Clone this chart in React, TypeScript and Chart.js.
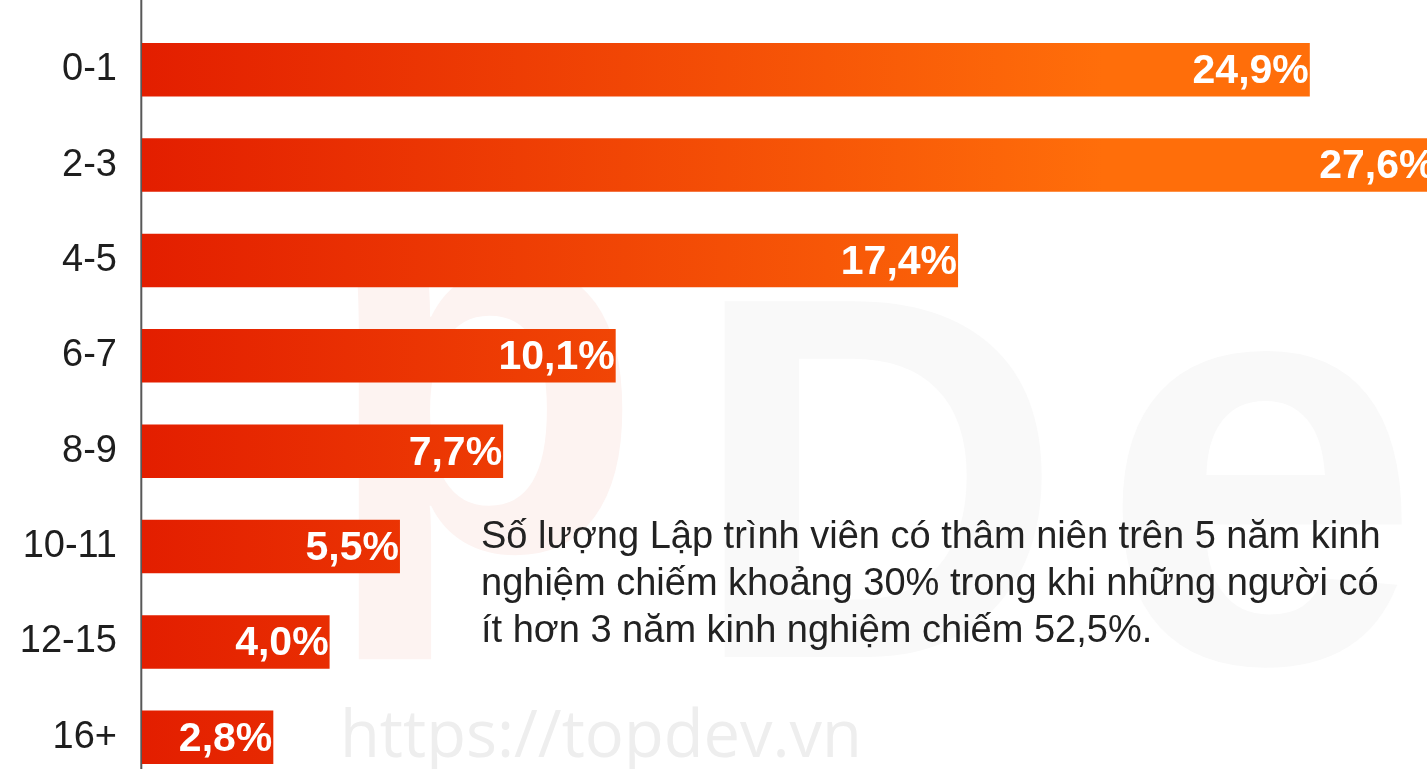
import React, { useEffect, useRef } from "react";
import { Chart, registerables } from "chart.js";

Chart.register(...registerables);

const categories: string[] = ["0-1", "2-3", "4-5", "6-7", "8-9", "10-11", "12-15", "16+"];
const shares: number[] = [24.9, 27.6, 17.4, 10.1, 7.7, 5.5, 4.0, 2.8];
const noteLines: string[] = [
  "Số lượng Lập trình viên có thâm niên trên 5 năm kinh",
  "nghiệm chiếm khoảng 30% trong khi những người có",
  "ít hơn 3 năm kinh nghiệm chiếm 52,5%.",
];
const watermarkText = "https://topdev.vn";

const fmt = (v: number) => v.toFixed(1).replace(".", ",") + "%";

const CANVAS_W = 1560;
const CANVAS_H = 800;

const backgroundPlugin = {
  id: "bgDecor",
  beforeDraw(chart: any) {
    const { ctx } = chart;
    ctx.save();
    ctx.fillStyle = "#ffffff";
    ctx.fillRect(0, 0, chart.width, chart.height);
    // faint logo letters
    ctx.textBaseline = "alphabetic";
    ctx.textAlign = "left";
    ctx.fillStyle = "#fdf3f1";
    ctx.font = 'bold 527px "Liberation Sans"';
    ctx.fillText("p", 322, 550);
    ctx.fillStyle = "#f9f9f9";
    ctx.font = 'bold 517px "Liberation Sans"';
    ctx.fillText("D", 690, 657);
    ctx.font = 'bold 578px "Liberation Sans"';
    ctx.fillText("e", 1100, 662);
    // watermark url
    ctx.fillStyle = "#eeeeee";
    ctx.font = '65px "Open Sans"';
    ctx.fillText(watermarkText, 340, 757);
    ctx.restore();
  },
  beforeDatasetsDraw(chart: any) {
    const { ctx, chartArea } = chart;
    ctx.save();
    ctx.strokeStyle = "#585858";
    ctx.lineWidth = 2;
    ctx.beginPath();
    ctx.moveTo(chartArea.left - 0.7, 0);
    ctx.lineTo(chartArea.left - 0.7, chart.height);
    ctx.stroke();
    ctx.restore();
  },
  afterDatasetsDraw(chart: any) {
    const { ctx } = chart;
    const meta = chart.getDatasetMeta(0);
    ctx.save();
    ctx.fillStyle = "#ffffff";
    ctx.font = 'bold 41px "Liberation Sans"';
    ctx.textAlign = "right";
    ctx.textBaseline = "middle";
    meta.data.forEach((bar: any, i: number) => {
      ctx.fillText(fmt(shares[i]), bar.x - 1, bar.y + 2);
    });
    // annotation
    ctx.fillStyle = "#222222";
    ctx.font = '38px "Liberation Sans"';
    ctx.textAlign = "left";
    ctx.textBaseline = "alphabetic";
    noteLines.forEach((line, i) => {
      ctx.fillText(line, 481, 548 + i * 47);
    });
    ctx.restore();
  },
};

export default function App() {
  const ref = useRef<HTMLCanvasElement | null>(null);

  useEffect(() => {
    if (!ref.current) return;
    const chart = new Chart(ref.current, {
      type: "bar",
      data: {
        labels: categories,
        datasets: [
          {
            data: shares,
            backgroundColor: (c: any) => {
              const ch = c.chart;
              const xs = ch.scales?.x;
              if (!xs || !ch.chartArea) return "#f04a08";
              const x0 = xs.getPixelForValue(0);
              const x1 = xs.getPixelForValue(20.5);
              if (!isFinite(x0) || !isFinite(x1) || x1 <= x0) return "#f04a08";
              const g = ch.ctx.createLinearGradient(x0, 0, x1, 0);
              g.addColorStop(0, "#e31e00");
              g.addColorStop(1, "#ff6e0a");
              return g;
            },
            borderWidth: 0,
            barPercentage: 0.56,
            categoryPercentage: 1,
          },
        ],
      },
      options: {
        indexAxis: "y",
        responsive: false,
        devicePixelRatio: 1,
        animation: false,
        layout: { padding: { top: 22, bottom: 15, left: 0, right: 11 } },
        plugins: {
          legend: { display: false },
          tooltip: { enabled: false },
        },
        scales: {
          x: {
            display: false,
            min: 0,
            max: 30,
          },
          y: {
            grid: { display: false, drawTicks: false },
            border: { display: false },
            ticks: {
              padding: 25,
              color: "#1e1e1e",
              font: { family: "Liberation Sans", size: 38 },
            },
            afterFit: (scale: any) => {
              scale.width = 142;
              scale.paddingTop = 0;
              scale.paddingBottom = 0;
            },
          },
        },
      } as any,
      plugins: [backgroundPlugin],
    });
    return () => chart.destroy();
  }, []);

  return (
    <div
      style={{
        position: "fixed",
        left: 0,
        top: 0,
        width: 1427,
        height: 769,
        overflow: "hidden",
        background: "#ffffff",
      }}
    >
      <canvas ref={ref} width={CANVAS_W} height={CANVAS_H} style={{ display: "block" }} />
    </div>
  );
}
